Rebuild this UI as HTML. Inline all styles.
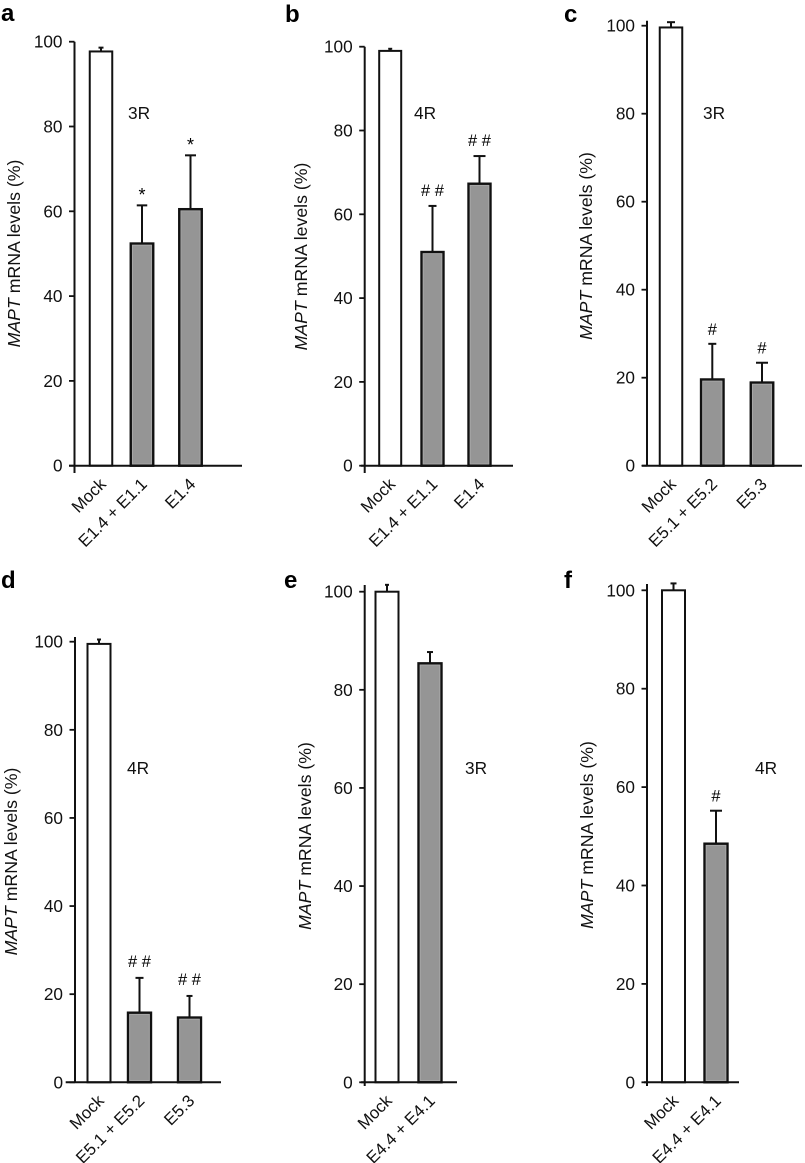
<!DOCTYPE html>
<html lang="en">
<head>
<meta charset="utf-8">
<title>MAPT mRNA levels</title>
<style>
html,body{margin:0;padding:0;background:#fff;}
svg{display:block;font-family:"Liberation Sans",Arial,sans-serif;fill:#111;}
</style>
</head>
<body>
<svg id="figure" xmlns="http://www.w3.org/2000/svg" width="805" height="1163" viewBox="0 0 805 1163"></svg>
<script>
// ---- Data ----
const tickLabels = [0, 20, 40, 60, 80, 100];

const categoriesA = ["Mock", "E1.4 + E1.1", "E1.4"];
const valuesA = [97.7, 52.4, 60.5];
const errorTopsA = [98.6, 61.4, 73.2];
const marksA = ["", "*", "*"];

const categoriesB = ["Mock", "E1.4 + E1.1", "E1.4"];
const valuesB = [99.0, 51.0, 67.3];
const errorTopsB = [99.5, 62.0, 73.9];
const marksB = ["", "# #", "# #"];

const categoriesC = ["Mock", "E5.1 + E5.2", "E5.3"];
const valuesC = [99.6, 19.6, 18.9];
const errorTopsC = [100.8, 27.7, 23.4];
const marksC = ["", "#", "#"];

const categoriesD = ["Mock", "E5.1 + E5.2", "E5.3"];
const valuesD = [99.5, 15.8, 14.7];
const errorTopsD = [100.5, 23.7, 19.6];
const marksD = ["", "# #", "# #"];

const categoriesE = ["Mock", "E4.4 + E4.1"];
const valuesE = [100, 85.4];
const errorTopsE = [101.4, 87.7];
const marksE = ["", ""];

const categoriesF = ["Mock", "E4.4 + E4.1"];
const valuesF = [100, 48.5];
const errorTopsF = [101.4, 55.2];
const marksF = ["", "#"];

// ---- Panel layout ----
const panels = [
  {letter:"a", tag:"3R", cats:categoriesA, vals:valuesA, tops:errorTopsA, marks:marksA, capW:[5,10.5,11],
   axisX:74.5, y0:465.7, y100:41.7, axisTop:41.7, axisBottom:473, xStart:69, xEnd:242,
   first:101, step1:41, step2:48.5, barW:22.5, letterX:1, letterY:21,
   tagX:128, tagY:119, titleX:20, titleY:253.5, markGap:4.5},
  {letter:"b", tag:"4R", cats:categoriesB, vals:valuesB, tops:errorTopsB, marks:marksB, capW:[4,8,12],
   axisX:364.7, y0:465.7, y100:46.7, axisTop:46.7, axisBottom:473, xStart:361, xEnd:513,
   first:390.2, step1:42.3, step2:47, barW:22, letterX:285, letterY:22,
   tagX:414, tagY:119, titleX:307, titleY:256.5, markGap:10},
  {letter:"c", tag:"3R", cats:categoriesC, vals:valuesC, tops:errorTopsC, marks:marksC, capW:[8,8,12],
   axisX:647, y0:465.7, y100:25.7, axisTop:20.7, axisBottom:466, xStart:642, xEnd:802,
   first:671, step1:41.3, step2:49.7, barW:22.5, letterX:564, letterY:22,
   tagX:703, tagY:119, titleX:592, titleY:246, markGap:9},
  {letter:"d", tag:"4R", cats:categoriesD, vals:valuesD, tops:errorTopsD, marks:marksD, capW:[4,8,6],
   axisX:75, y0:1082.3, y100:641.7, axisTop:637, axisBottom:1082.3, xStart:65.7, xEnd:221,
   first:99, step1:40.5, step2:50, barW:23, letterX:1, letterY:588,
   tagX:127, tagY:774, titleX:17, titleY:861.5, markGap:11},
  {letter:"e", tag:"3R", cats:categoriesE, vals:valuesE, tops:errorTopsE, marks:marksE, capW:[4,6],
   axisX:364.7, y0:1082.3, y100:591.7, axisTop:585, axisBottom:1086, xStart:361, xEnd:457,
   first:387, step1:43, step2:0, barW:23, letterX:284, letterY:588,
   tagX:465, tagY:774, titleX:311, titleY:836, markGap:9},
  {letter:"f", tag:"4R", cats:categoriesF, vals:valuesF, tops:errorTopsF, marks:marksF, capW:[6,12],
   axisX:647, y0:1082.3, y100:590.3, axisTop:584, axisBottom:1086, xStart:644, xEnd:739,
   first:673.5, step1:42.5, step2:0, barW:23, letterX:564, letterY:588,
   tagX:755, tagY:774, titleX:593, titleY:835, markGap:9}
];

// ---- Helpers ----
const NS = "http://www.w3.org/2000/svg";
const INK = "#111";
const figure = document.getElementById("figure");

function make(tag, attrs, parent, text) {
  const node = document.createElementNS(NS, tag);
  for (const k in attrs) node.setAttribute(k, attrs[k]);
  if (text !== undefined) node.textContent = text;
  parent.appendChild(node);
  return node;
}
function yScale(p, v) { return p.y0 + (p.y100 - p.y0) * v / 100; }
function xScale(p, i) { return p.first + p.step1 * Math.min(i, 1) + p.step2 * Math.max(i - 1, 0); }

// ---- Draw ----
panels.forEach(function (p) {
  const g = make("g", {}, figure);
  
  

  const letter = make("text", {x:p.letterX, y:p.letterY, "font-size":24, "font-weight":"bold", fill:"#000"}, g, p.letter);
  
  

  // bars and error bars
  p.cats.forEach(function (cat, i) {
    const cx = xScale(p, i);
    const yv = yScale(p, p.vals[i]);
    const yt = yScale(p, p.tops[i]);
    const capHalf = p.capW[i] / 2;
    const stem = make("line", {x1:cx, x2:cx, y1:yv, y2:yt, stroke:INK, "stroke-width":2}, g);
    
    
    const cap = make("line", {x1:cx - capHalf, x2:cx + capHalf, y1:yt, y2:yt, stroke:INK, "stroke-width":2}, g);
    
    
    const bar = make("rect", {x:cx - p.barW / 2, y:yv, width:p.barW, height:p.y0 - yv,
      fill:i === 0 ? "#fff" : "#959595", stroke:INK, "stroke-width":i === 0 ? 2 : 2.4}, g);
    
    
    if (i > 0) {
      const edge = make("rect", {x:cx - p.barW / 2 + 1.7, y:yv + 1.7, width:p.barW - 3.4, height:p.y0 - yv - 3.4,
        fill:"none", stroke:"#aaa", "stroke-width":0.8}, g);
      
      
    }

    if (p.marks[i]) {
      const mark = make("text", {x:cx, y:yt - p.markGap, "font-size":p.marks[i] === "*" ? 18 : 16.5,
        "text-anchor":"middle", fill:"#000"}, g, p.marks[i]);
      
      
    }

    const lx = cx + 6;
    const ly = p.y0 + 19.5;
    const label = make("text", {x:lx, y:ly, "font-size":16.9, "text-anchor":"end",
      transform:"rotate(-45 " + lx + " " + ly + ")"}, g, cat);
    
    
  });

  // axes
  const yAxis = make("line", {x1:p.axisX, x2:p.axisX, y1:p.axisTop, y2:p.axisBottom, stroke:INK, "stroke-width":2}, g);
  
  
  const xAxis = make("line", {x1:p.xStart, x2:p.xEnd, y1:p.y0, y2:p.y0, stroke:INK, "stroke-width":2}, g);
  
  

  tickLabels.forEach(function (t) {
    const y = yScale(p, t);
    const tick = make("line", {x1:p.axisX - 5.5, x2:p.axisX, y1:y, y2:y, stroke:INK, "stroke-width":1.8}, g);
    
    
    const tl = make("text", {x:p.axisX - 12, y:y + 6, "font-size":17.2, "text-anchor":"end"}, g, String(t));
    
    
  });

  // y axis title
  const title = make("text", {x:p.titleX, y:p.titleY, "font-size":17.7, "text-anchor":"middle",
    transform:"rotate(-90 " + p.titleX + " " + p.titleY + ")"}, g);
  
  
  make("tspan", {"font-style":"italic"}, title, "MAPT");
  make("tspan", {}, title, " mRNA levels (%)");

  const tagText = make("text", {x:p.tagX, y:p.tagY, "font-size":17.3}, g, p.tag);
  
  
});
</script>
</body>
</html>
